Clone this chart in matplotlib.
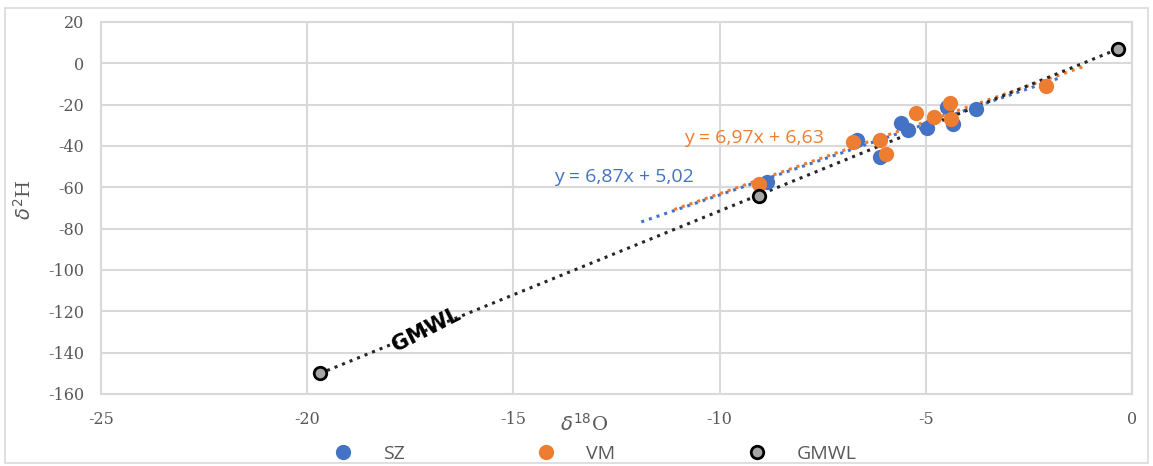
import numpy as np
import matplotlib.pyplot as plt
from matplotlib.lines import Line2D
from matplotlib.patches import Rectangle

plt.rcParams['axes.unicode_minus'] = False

# SZ samples
sz_x = [-3.79, -4.49, -4.33, -4.97, -5.59, -5.44, -6.67, -6.10, -8.85]
sz_y = [-22.3, -21.0, -29.4, -31.5, -29.0, -32.3, -37.1, -45.5, -57.3]
# VM samples
vm_x = [-2.08, -4.41, -5.23, -4.79, -4.39, -6.10, -5.97, -6.77, -9.05]
vm_y = [-11.0, -19.4, -24.2, -25.8, -27.1, -37.1, -44.0, -38.2, -58.4]
# GMWL reference points
gm_x = [-19.7, -9.05, -0.35]
gm_y = [-150.0, -64.0, 7.0]

# trendlines (from chart labels) and their drawn x-range
sz_fit = (6.87, 5.02)
vm_fit = (6.97, 6.63)
sz_range = (-11.9, -1.8)
vm_range = (-11.1, -1.2)

blue = '#4472C4'
orange = '#ED7D31'
grid_c = '#d9d9d9'
txt_c = '#595959'

fig = plt.figure(figsize=(11.53, 4.66), dpi=100)
ax = fig.add_axes([101/1153, 1 - 394/466, (1132-101)/1153, (394-22)/466])

ax.set_xlim(-25, 0)
ax.set_ylim(-160, 20)
ax.set_xticks(np.arange(-25, 1, 5))
ax.set_yticks(np.arange(-160, 21, 20))
ax.grid(True, color=grid_c, lw=1.5)
ax.set_axisbelow(True)
for s in ax.spines.values():
    s.set_color(grid_c)
    s.set_linewidth(1.5)
ax.tick_params(length=0, labelsize=11.5, labelcolor=txt_c)
ax.tick_params(axis='x', pad=12)
ax.tick_params(axis='y', pad=12)
for lab in ax.get_xticklabels() + ax.get_yticklabels():
    lab.set_family('DejaVu Serif')

# trendlines
xs = np.array(sz_range)
ax.plot(xs, sz_fit[0]*xs + sz_fit[1], ls=':', lw=2.2, color=blue, zorder=2)
xs = np.array(vm_range)
ax.plot(xs, vm_fit[0]*xs + vm_fit[1], ls=':', lw=2.2, color=orange, zorder=2)
k, b = np.polyfit(gm_x, gm_y, 1)
xs = np.array([min(gm_x), max(gm_x)])
ax.plot(xs, k*xs + b, ls=':', lw=2.2, color='#262626', zorder=2)

ax.plot(sz_x, sz_y, 'o', ms=11, color=blue, mec='none', zorder=3)
ax.plot(vm_x, vm_y, 'o', ms=11, color=orange, mec='none', zorder=3)
ax.plot(gm_x, gm_y, 'o', ms=9, mfc='#a5a5a5', mec='black', mew=2, zorder=4)

ax.text(-14.02, -55, 'y = 6,87x + 5,02', color=blue, fontsize=14,
        family='Open Sans', ha='left', va='center')
ax.text(-10.87, -36, 'y = 6,97x + 6,63', color=orange, fontsize=14,
        family='Open Sans', ha='left', va='center')
ax.text(-17.1, -129, 'GMWL', fontsize=15, fontweight='bold', rotation=27,
        ha='center', va='center', family='DejaVu Sans')

fig.text(584/1153, 1 - 424/466, r'$\delta^{18}$O', fontsize=14, color=txt_c,
         family='DejaVu Serif', ha='center', va='center')
fig.text(24/1153, 1 - 200/466, r'$\delta^{2}$H', fontsize=14, color=txt_c,
         family='DejaVu Serif', ha='center', va='center', rotation=90)

handles = [
    Line2D([], [], ls='none', marker='o', ms=11, color=blue, mec='none'),
    Line2D([], [], ls='none', marker='o', ms=11, color=orange, mec='none'),
    Line2D([], [], ls='none', marker='o', ms=9, mfc='#a5a5a5', mec='black', mew=2),
]
leg = fig.legend(handles, ['SZ', 'VM', 'GMWL'], loc='center',
                 bbox_to_anchor=(590/1153, 1 - 454/466), ncol=3, frameon=False,
                 handlelength=2.0, columnspacing=6.3, handletextpad=1.03,
                 prop={'family': 'Open Sans', 'size': 14})
for t in leg.get_texts():
    t.set_color(txt_c)

fig.patches.append(Rectangle((5/1153, 3/466), 1143/1153, 455/466, transform=fig.transFigure,
                             fill=False, edgecolor=grid_c, lw=1.2))

fig.savefig('out.png', dpi=100)
